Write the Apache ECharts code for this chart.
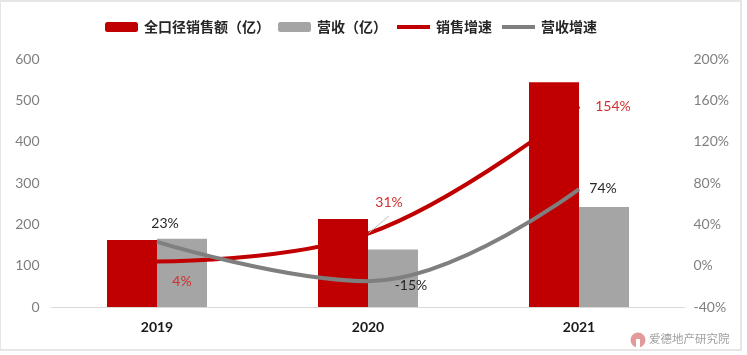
<!DOCTYPE html>
<html>
<head>
<meta charset="utf-8">
<style>
html,body{margin:0;padding:0;background:#fff;}
#main{width:747px;height:355px;}
</style>
<script src="https://cdn.jsdelivr.net/npm/echarts@6/dist/echarts.min.js"></script>
</head>
<body>
<div id="main"></div>
<script>
const years = ['2019', '2020', '2021'];
const salesAmount = [162, 213, 544];
const revenue = [165, 139, 242];
const salesGrowth = [4, 31, 154];
const revenueGrowth = [23, -15, 74];
const leftTicks = [0, 100, 200, 300, 400, 500, 600];

const chart = echarts.init(document.getElementById('main'));
const tickFont = 'Lato, "Noto Sans", sans-serif';
const hideSymbol = { color: 'transparent', borderColor: 'transparent', opacity: 0 }; // 图例只留线
const option = {
	animation: false,
	graphic: [
		// 外框
		{ type: 'rect', shape: { x: 0, y: 1, width: 741, height: 349 }, style: { fill: 'none', stroke: '#e6e6e6', lineWidth: 2 }, silent: true },
		{ type: 'circle', shape: { cx: 638, cy: 340, r: 7.5 }, style: { fill: '#e39a9a' }, silent: true },
		{ type: 'rect', shape: { x: 636, y: 339, width: 4, height: 9 }, style: { fill: '#fff' }, silent: true },
		{ type: 'text', left: 649, top: 333, style: { text: '爱德地产研究院', font: '11.5px "Noto Sans CJK SC"', fill: '#a0a0a0' }, silent: true }
	],
	legend: {
		top: 15,
		left: 100,
		itemWidth: 33,
		itemHeight: 10,
		itemGap: 8,
		textStyle: { fontFamily: '"Noto Sans CJK SC"', fontSize: 14, fontWeight: 'bold', color: '#262626', padding: [0, 0, 0, 1] },
		data: [
			{ name: '全口径销售额（亿）' },
			{ name: '营收（亿）' },
			{ name: '销售增速', itemStyle: hideSymbol, lineStyle: { width: 4 } },
			{ name: '营收增速', itemStyle: hideSymbol, lineStyle: { width: 4 } }
		]
	},
	grid: { left: 51.5, right: 62.5, top: 59, bottom: 48 },
	xAxis: {
		type: 'category',
		data: years,
		axisTick: { show: false },
		axisLine: { lineStyle: { color: '#d9d9d9' } },
		axisLabel: { color: '#1a1a1a', fontWeight: 'bold', fontSize: 14, fontFamily: tickFont, margin: 13 }
	},
	yAxis: [{
		type: 'value',
		min: leftTicks[0],
		max: leftTicks[leftTicks.length - 1],
		interval: 100,
		splitLine: { show: false },
		axisLine: { show: false },
		axisTick: { show: false },
		axisLabel: { color: '#7f7f7f', fontSize: 14, fontFamily: tickFont, margin: 12 }
	}, {
		type: 'value',
		min: -40,
		max: 200,
		interval: 40,
		splitLine: { show: false },
		axisLine: { show: false },
		axisTick: { show: false },
		axisLabel: { color: '#7f7f7f', fontSize: 14, fontFamily: tickFont, margin: 9, formatter: '{value}%' }
	}],
	series: [{
		name: '全口径销售额（亿）',
		type: 'bar',
		data: salesAmount,
		barWidth: 50,
		barGap: 0,
		itemStyle: { color: '#c00000' }
	}, {
		name: '营收（亿）',
		type: 'bar',
		data: revenue,
		barWidth: 50,
		itemStyle: { color: '#a5a5a5' }
	}, {
		name: '销售增速',
		type: 'line',
		yAxisIndex: 1,
		data: [
			{ value: salesGrowth[0], label: { offset: [25, 32] } },
			{ value: salesGrowth[1], label: { offset: [21, -19] }, labelLine: { show: true } },
			{ value: salesGrowth[2], label: { offset: [34, 12] } }
		],
		smooth: 0.4,
		symbol: 'circle',
		symbolSize: 1,
		lineStyle: { color: '#c00000', width: 4 },
		itemStyle: { color: '#c00000' },
		label: { show: true, position: 'top', color: '#d0302f', fontSize: 14, fontFamily: tickFont, formatter: '{c}%' },
		labelLine: { lineStyle: { color: '#bfbfbf', width: 1 } }
	}, {
		name: '营收增速',
		type: 'line',
		yAxisIndex: 1,
		data: [
			{ value: revenueGrowth[0], label: { offset: [8, -6] } },
			{ value: revenueGrowth[1], label: { offset: [43, 17] } },
			{ value: revenueGrowth[2], label: { offset: [24, 12] } }
		],
		smooth: 0.4,
		symbol: 'circle',
		symbolSize: 1,
		lineStyle: { color: '#7f7f7f', width: 4 },
		itemStyle: { color: '#7f7f7f' },
		label: { show: true, position: 'top', color: '#262626', fontSize: 14, fontFamily: tickFont, formatter: '{c}%' }
	}]
};
chart.setOption(option);
</script>
</body>
</html>
